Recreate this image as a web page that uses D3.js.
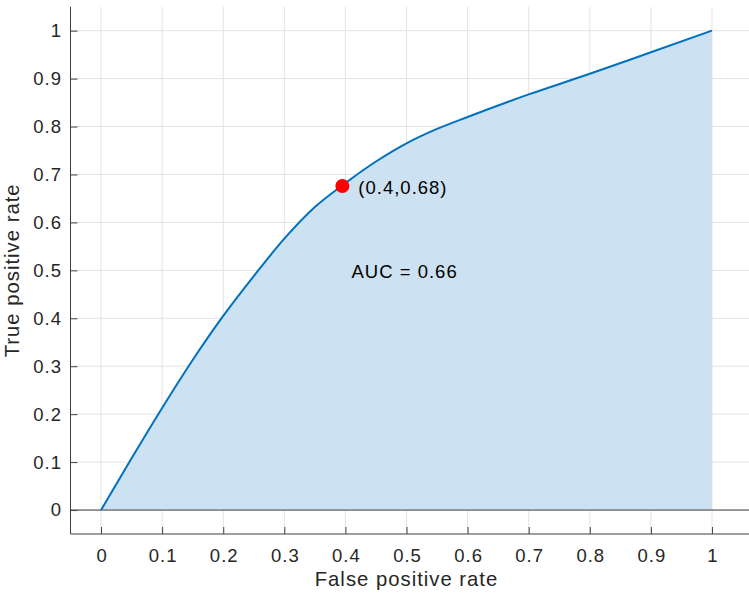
<!DOCTYPE html>
<meta charset="utf-8">
<style>
  body { margin: 0; background: #fff; }
  text { font-family: "Liberation Sans", Arial, sans-serif; fill: #262626; letter-spacing: 1px; }
</style>
<body>
  <div id="box1"></div>
</body>
<script src="https://d3js.org/d3.v7.min.js"></script>
<script>

// ROC curve
var fpr = [0, 0.05, 0.1, 0.15, 0.2, 0.25, 0.3, 0.35, 0.4, 0.45, 0.5, 0.55, 0.6, 0.7, 0.8, 0.9, 1.0]
var tpr = [0, 0.108, 0.213, 0.313, 0.405, 0.488, 0.566, 0.632, 0.682, 0.727, 0.765, 0.795, 0.82, 0.867, 0.91, 0.955, 1.0]

var opPoint = {x: 0.395, y: 0.676, label: "(0.4,0.68)"}
var aucLabel = "AUC = 0.66"

var xTicks = [0, 0.1, 0.2, 0.3, 0.4, 0.5, 0.6, 0.7, 0.8, 0.9, 1]
var yTicks = [0, 0.1, 0.2, 0.3, 0.4, 0.5, 0.6, 0.7, 0.8, 0.9, 1]

var width = 749, height = 603
var margin = {top: 6.7, right: 6.5, bottom: 69, left: 70.5}

var data = fpr.map((d, i) => ({x: d, y: tpr[i]}))

var x = d3.scaleLinear()
    .domain([-0.05, 1.05])
    .range([margin.left, width - margin.right])

var y = d3.scaleLinear()
    .domain([-0.05, 1.05])
    .range([height - margin.bottom, margin.top])

var svg = d3.select('#box1').append("svg")
    .attr("width", width)
    .attr("height", height)

var axisCol = "#404040"
var gridCol = "#e3e3e3"

// grid
svg.append("g")
  .selectAll("line")
  .data(xTicks)
  .join("line")
    .attr("x1", d => x(d)).attr("x2", d => x(d))
    .attr("y1", y.range()[1]).attr("y2", y.range()[0])
    .attr("stroke", gridCol)

svg.append("g")
  .selectAll("line")
  .data(yTicks)
  .join("line")
    .attr("x1", margin.left).attr("x2", width)
    .attr("y1", d => y(d)).attr("y2", d => y(d))
    .attr("stroke", gridCol)

// area + curve
svg.append("path")
    .datum(data)
    .attr("fill", "#cce1f1")
    .attr("d", d3.area().x(d => x(d.x)).y0(y(0)).y1(d => y(d.y)).curve(d3.curveMonotoneX))

// zero line
svg.append("line")
    .attr("x1", margin.left).attr("x2", width)
    .attr("y1", y(0)).attr("y2", y(0))
    .attr("stroke", axisCol).attr("stroke-width", 1)

svg.append("path")
    .datum(data)
    .attr("fill", "none")
    .attr("stroke", "#0072bd")
    .attr("stroke-width", 2)
    .attr("d", d3.line().x(d => x(d.x)).y(d => y(d.y)).curve(d3.curveMonotoneX))

// axes
var xAxis = d3.axisBottom(x).tickValues(xTicks).tickSizeInner(-7).tickSizeOuter(0)
    .tickFormat(d => d3.format("")(d)).tickPadding(14.5)
var gx = svg.append("g")
    .attr("transform", "translate(0," + y.range()[0] + ")")
    .call(xAxis)
gx.select(".domain").remove()
gx.append("line").attr("x1", margin.left).attr("x2", width).attr("stroke", axisCol)
gx.selectAll(".tick line").attr("stroke", axisCol)
gx.selectAll(".tick text")
    .style("font-family", "Liberation Sans, Arial, sans-serif")
    .style("font-size", "18.5px").attr("fill", "#262626")
    .attr("dx", "0.5px")

var yAxis = d3.axisLeft(y).tickValues(yTicks).tickSizeInner(-7).tickSizeOuter(0)
    .tickFormat(d => d3.format("")(d)).tickPadding(8.5)
var gy = svg.append("g")
    .attr("transform", "translate(" + margin.left + ",0)")
    .call(yAxis)
gy.select(".domain").remove()
gy.append("line").attr("y1", y.range()[1]).attr("y2", y.range()[0]).attr("stroke", axisCol)
gy.selectAll(".tick line").attr("stroke", axisCol)
gy.selectAll(".tick text")
    .style("font-family", "Liberation Sans, Arial, sans-serif")
    .style("font-size", "18.5px").attr("fill", "#262626")

// axis labels
svg.append("text")
    .attr("x", (x.range()[0] + x.range()[1]) / 2)
    .attr("y", 586)
    .attr("text-anchor", "middle")
    .style("font-size", "20.3px")
    .text("False positive rate")

svg.append("text")
    .attr("transform", "translate(19," + ((y.range()[0] + y.range()[1]) / 2) + ") rotate(-90)")
    .attr("text-anchor", "middle")
    .style("font-size", "20.3px")
    .text("True positive rate")

// operating point
svg.append("circle")
    .attr("cx", x(opPoint.x)).attr("cy", y(opPoint.y))
    .attr("r", 7)
    .attr("fill", "#ff0000")

svg.append("text")
    .attr("x", x(opPoint.x) + 16)
    .attr("y", y(opPoint.y) + 8)
    .style("font-size", "18.5px")
    .style("fill", "#000")
    .text(opPoint.label)

svg.append("text")
    .attr("x", x(0.41))
    .attr("y", y(0.484))
    .style("font-size", "18.5px")
    .style("fill", "#000")
    .text(aucLabel)

</script>
